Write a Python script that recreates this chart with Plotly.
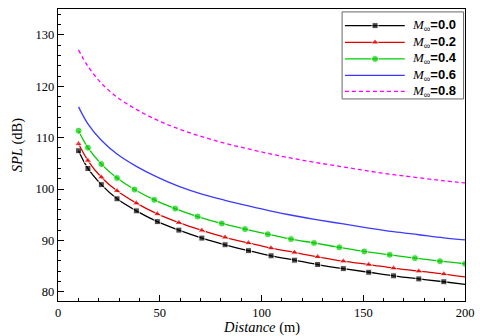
import plotly.graph_objects as go

# distancias (m) y SPL (dB)
dist_a = [10.1, 14.7, 21.3, 29.0, 38.5, 48.8, 59.4, 70.7, 82.1, 93.6, 104.7,
          116.2, 127.6, 140.2, 152.7, 164.9, 177.3, 189.6, 200.0]
dist_b = [10.1, 14.7, 21.3, 29.0, 37.6, 47.3, 57.6, 68.6, 80.5, 91.9, 103.1,
          114.5, 125.8, 138.2, 150.5, 163.0, 175.4, 187.7, 200.0]

spl_m00 = [107.45, 104.0, 100.85, 98.1, 95.75, 93.65, 92.0, 90.45, 89.15, 88.0,
           87.0, 86.15, 85.3, 84.5, 83.8, 83.1, 82.5, 81.95, 81.45]
spl_m02 = [108.8, 105.55, 102.3, 99.65, 97.25, 95.15, 93.45, 91.95, 90.6, 89.5,
           88.5, 87.65, 86.8, 85.95, 85.3, 84.6, 84.0, 83.45, 82.9]
spl_m04 = [111.35, 108.05, 104.85, 102.15, 99.9, 97.9, 96.2, 94.65, 93.3, 92.2,
           91.2, 90.25, 89.5, 88.65, 87.85, 87.2, 86.55, 85.95, 85.45]
spl_m06 = [116.0, 112.7, 109.5, 106.8, 104.4, 102.3, 100.5, 99.0, 97.8, 96.7,
           95.7, 94.8, 94.0, 93.2, 92.4, 91.7, 91.1, 90.5, 90.1]
spl_m08 = [127.1, 123.9, 120.6, 117.9, 115.5, 113.4, 111.7, 110.2, 108.9, 107.8,
           106.8, 105.9, 105.1, 104.3, 103.5, 102.8, 102.2, 101.6, 101.2]

mach = ['0.0', '0.2', '0.4', '0.6', '0.8']

SERIF = 'Liberation Serif, Times New Roman, serif'
fuente = dict(family=SERIF, size=12.5, color='black')
fuente_tit = dict(family=SERIF, size=14.5, color='black')

# estilo de cada serie: (x, y, color, simbolo, tamaño, dash)
series = [
    (dist_a, spl_m00, 'black', 'square', 6, 'solid'),
    (dist_a, spl_m02, '#e00000', 'triangle-up', 7, 'solid'),
    (dist_b, spl_m04, '#00cc00', 'circle', 7, 'solid'),
    (dist_a, spl_m06, '#3b3bff', None, 0, 'solid'),
    (dist_a, spl_m08, '#ff00ff', None, 0, '4px,3px'),
]

fig = go.Figure()

for i, (xs, ys, col, sim, tam, dash) in enumerate(series):
    if sim is None:
        fig.add_trace(go.Scatter(
            x=xs, y=ys, mode='lines', showlegend=False,
            line=dict(color=col, width=1.3, shape='spline', dash=dash),
        ))
    else:
        # la serie M=0.4 lleva marcador tambien en el ultimo punto
        tamanos = [tam] * len(xs) if i == 2 else [tam] * (len(xs) - 1) + [0]
        fig.add_trace(go.Scatter(
            x=xs, y=ys, mode='lines+markers', showlegend=False,
            line=dict(color=col, width=1.3, shape='spline', dash=dash),
            marker=dict(symbol=sim, size=tamanos, color=col),
        ))

# leyenda dibujada a mano (ejes auxiliares 0..1 sobre el area de trazado)
ley_x0, ley_x1, ley_xm = 0.705, 0.852, 0.779
ley_filas = [0.943, 0.886, 0.829, 0.773, 0.718]
for (xs, ys, col, sim, tam, dash), fila, m in zip(series, ley_filas, mach):
    fig.add_trace(go.Scatter(
        x=[ley_x0, ley_xm, ley_x1], y=[fila] * 3, xaxis='x2', yaxis='y2',
        mode='lines+markers' if sim else 'lines', showlegend=False,
        hoverinfo='skip',
        line=dict(color=col, width=1.3, dash=dash),
        marker=dict(symbol=sim or 'circle', size=[0, tam, 0], color=col),
    ))
    fig.add_annotation(
        text=('<span style="font-family:Liberation Serif"><i>M</i></span>'
              '<sub>∞</sub><b>=' + m + '</b>'),
        x=0.866, y=fila, xref='x2', yref='y2', xanchor='left', yanchor='middle',
        showarrow=False,
        font=dict(family='Liberation Sans, Arial, sans-serif', size=13, color='black'),
    )

fig.add_shape(type='rect', xref='x2', yref='y2', x0=0.698, x1=0.9965,
              y0=0.692, y1=0.990, line=dict(color='#666666', width=1),
              fillcolor='rgba(0,0,0,0)', layer='below')

fig.update_layout(
    width=480,
    height=336,
    margin=dict(l=58, r=15, t=9, b=35, autoexpand=False),
    plot_bgcolor='white',
    paper_bgcolor='white',
    font=fuente,
    showlegend=False,
    xaxis2=dict(overlaying='x', range=[0, 1], visible=False, fixedrange=True),
    yaxis2=dict(overlaying='y', range=[0, 1], visible=False, fixedrange=True),
)
fig.add_annotation(text='<i>Distance</i> (m)', x=0.5, y=-0.09, xref='paper',
                   yref='paper', xanchor='center', yanchor='middle',
                   showarrow=False, font=fuente_tit)
fig.add_annotation(text='<i>SPL</i> (dB)', x=-0.1, y=0.534, xref='paper',
                   yref='paper', xanchor='center', yanchor='middle',
                   showarrow=False, textangle=-90, font=fuente_tit)

fig.update_xaxes(
    selector=dict(overlaying=None),
    range=[0, 200], tick0=0, dtick=50, ticks='inside', ticklen=6,
    tickwidth=1.3, tickcolor='black', showgrid=False, zeroline=False,
    showline=True, linecolor='black', linewidth=1.3, mirror=True,
    minor=dict(dtick=10, ticks='inside', ticklen=3, tickcolor='black'),
    automargin=False, tickfont=fuente,
)
fig.update_yaxes(
    selector=dict(overlaying=None),
    range=[78.2, 135.05], tick0=80, dtick=10, ticks='inside', ticklen=6,
    tickwidth=1.3, tickcolor='black', showgrid=False, zeroline=False,
    showline=True, linecolor='black', linewidth=1.3, mirror=True,
    minor=dict(dtick=2, ticks='inside', ticklen=3, tickcolor='black'),
    automargin=False, tickfont=fuente,
)

fig.write_html("out.html", config={'displayModeBar': False},
               post_script="document.body.style.margin='0';")
